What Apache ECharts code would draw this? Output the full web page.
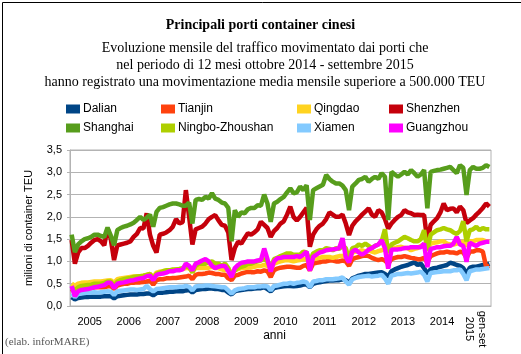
<!DOCTYPE html>
<html>
<head>
<meta charset="utf-8">
<script src="https://cdn.jsdelivr.net/npm/echarts@6/dist/echarts.min.js"></script>
<style>
  html, body { margin: 0; padding: 0; background: #fff; }
  #chart { width: 521px; height: 354px; }
</style>
</head>
<body>
<div id="chart"></div>
<script>
// anni e mesi (gen 2005 - set 2015)
const years = ['2005', '2006', '2007', '2008', '2009', '2010', '2011', '2012', '2013', '2014', '2015'];
const monthsInYear = [12, 12, 12, 12, 12, 12, 12, 12, 12, 12, 9];

// milioni di TEU al mese
const dalian = [
  0.20, 0.15, 0.18, 0.19, 0.20, 0.20, 0.21, 0.21, 0.21, 0.21, 0.22, 0.22,
  0.22, 0.17, 0.22, 0.23, 0.24, 0.25, 0.26, 0.26, 0.26, 0.27, 0.27, 0.28,
  0.28, 0.24, 0.29, 0.30, 0.30, 0.31, 0.32, 0.32, 0.33, 0.33, 0.33, 0.35,
  0.36, 0.30, 0.36, 0.37, 0.38, 0.38, 0.39, 0.39, 0.38, 0.38, 0.36, 0.36,
  0.30, 0.26, 0.33, 0.35, 0.36, 0.37, 0.38, 0.38, 0.39, 0.40, 0.40, 0.42,
  0.38, 0.33, 0.40, 0.42, 0.43, 0.44, 0.45, 0.45, 0.44, 0.45, 0.46, 0.48,
  0.48, 0.42, 0.50, 0.52, 0.53, 0.55, 0.56, 0.57, 0.57, 0.58, 0.58, 0.60,
  0.58, 0.52, 0.62, 0.65, 0.68, 0.70, 0.72, 0.72, 0.73, 0.74, 0.75, 0.76,
  0.72, 0.66, 0.78, 0.82, 0.85, 0.88, 0.90, 0.92, 0.95, 0.98, 0.92, 0.95,
  0.85, 0.72, 0.82, 0.85, 0.86, 0.88, 0.90, 0.92, 0.97, 0.95, 0.92, 0.90,
  0.85, 0.72, 0.86, 0.88, 0.88, 0.90, 0.92, 0.92, 0.95
];
const tianjin = [
  0.38, 0.30, 0.36, 0.38, 0.38, 0.40, 0.40, 0.42, 0.42, 0.42, 0.42, 0.44,
  0.45, 0.38, 0.46, 0.48, 0.50, 0.50, 0.52, 0.52, 0.53, 0.53, 0.54, 0.55,
  0.57, 0.48, 0.58, 0.60, 0.60, 0.62, 0.62, 0.63, 0.63, 0.64, 0.65, 0.66,
  0.68, 0.60, 0.70, 0.72, 0.72, 0.73, 0.75, 0.74, 0.72, 0.72, 0.70, 0.70,
  0.62, 0.58, 0.68, 0.70, 0.73, 0.75, 0.77, 0.76, 0.76, 0.78, 0.77, 0.80,
  0.78, 0.65, 0.80, 0.84, 0.86, 0.87, 0.88, 0.88, 0.87, 0.86, 0.86, 0.90,
  0.92, 0.80, 0.95, 0.97, 0.98, 1.00, 1.00, 1.02, 1.02, 1.00, 1.00, 1.02,
  1.00, 0.90, 1.05, 1.08, 1.10, 1.12, 1.13, 1.12, 1.08, 1.05, 1.03, 1.05,
  1.02, 0.95, 1.05, 1.08, 1.10, 1.10, 1.12, 1.10, 1.08, 1.07, 1.05, 1.05,
  1.08, 0.98, 1.12, 1.15, 1.18, 1.20, 1.20, 1.22, 1.20, 1.20, 1.18, 1.22,
  1.20, 1.08, 1.22, 1.22, 1.25, 1.25, 1.22, 0.88, 0.90
];
const qingdao = [
  0.50, 0.45, 0.50, 0.52, 0.53, 0.53, 0.54, 0.55, 0.55, 0.55, 0.56, 0.57,
  0.58, 0.52, 0.60, 0.62, 0.63, 0.64, 0.65, 0.66, 0.66, 0.67, 0.68, 0.70,
  0.72, 0.65, 0.75, 0.77, 0.78, 0.80, 0.80, 0.80, 0.82, 0.82, 0.83, 0.85,
  0.85, 0.78, 0.85, 0.85, 0.86, 0.85, 0.86, 0.88, 0.85, 0.85, 0.82, 0.80,
  0.85, 0.70, 0.80, 0.83, 0.85, 0.85, 0.87, 0.86, 0.88, 0.90, 0.90, 0.92,
  0.90, 0.85, 0.95, 0.98, 1.00, 1.02, 1.03, 1.02, 1.00, 1.02, 1.03, 1.05,
  1.05, 0.95, 1.05, 1.07, 1.08, 1.10, 1.10, 1.10, 1.08, 1.10, 1.12, 1.12,
  1.15, 1.05, 1.20, 1.22, 1.23, 1.25, 1.22, 1.25, 1.22, 1.20, 1.23, 1.25,
  1.28, 1.15, 1.30, 1.30, 1.32, 1.33, 1.30, 1.30, 1.25, 1.28, 1.30, 1.35,
  1.38, 1.25, 1.40, 1.42, 1.43, 1.45, 1.45, 1.40, 1.38, 1.38, 1.40, 1.42,
  1.45, 1.35, 1.45, 1.45, 1.48, 1.48, 1.48, 1.45, 1.45
];
const shenzhen = [
  1.48, 0.95, 1.20, 1.30, 1.30, 1.35, 1.42, 1.48, 1.50, 1.45, 1.36, 1.74,
  1.50, 1.03, 1.36, 1.38, 1.40, 1.42, 1.45, 1.55, 1.62, 1.75, 1.74, 2.08,
  1.60, 1.35, 1.20, 1.60, 1.62, 1.65, 1.70, 1.78, 1.95, 1.85, 1.88, 2.60,
  2.00, 1.38, 1.72, 1.75, 1.78, 1.85, 1.95, 2.00, 2.04, 1.92, 1.82, 1.80,
  1.65, 1.03, 1.30, 1.44, 1.40, 1.52, 1.63, 1.60, 1.65, 1.72, 1.89, 1.82,
  1.75, 1.55, 1.68, 1.75, 1.85, 1.90, 2.05, 2.23, 2.00, 1.92, 2.00, 2.10,
  2.20, 1.33, 1.60, 1.72, 1.80, 1.85, 1.95, 2.10, 2.05, 2.00, 2.00, 2.05,
  1.85, 1.59, 1.80, 1.90, 1.97, 2.05, 2.12, 2.19, 2.05, 2.00, 2.15, 2.10,
  1.95, 1.74, 1.85, 1.93, 2.00, 2.04, 2.15, 2.10, 2.08, 2.04, 2.05, 2.04,
  2.04, 1.44, 1.82, 1.90, 1.97, 2.10, 2.30, 2.15, 2.18, 2.19, 2.10, 2.23,
  2.15, 1.86, 1.92, 1.97, 2.05, 2.12, 2.20, 2.30, 2.23
];
const shanghai = [
  1.60, 1.21, 1.38, 1.45, 1.50, 1.52, 1.55, 1.60, 1.60, 1.57, 1.55, 1.76,
  1.58, 1.36, 1.70, 1.75, 1.78, 1.80, 1.83, 1.87, 1.93, 2.00, 1.93, 1.98,
  2.05, 1.78, 2.11, 2.20, 2.22, 2.25, 2.28, 2.30, 2.30, 2.28, 2.25, 2.25,
  2.32, 1.85, 2.38, 2.40, 2.38, 2.45, 2.41, 2.53, 2.41, 2.38, 2.32, 2.30,
  2.20, 1.45, 2.15, 2.00, 2.10, 2.08, 2.17, 2.20, 2.20, 2.26, 2.25, 2.50,
  2.30, 1.89, 2.30, 2.34, 2.40, 2.45, 2.55, 2.64, 2.53, 2.55, 2.68, 2.60,
  2.71, 1.93, 2.60, 2.64, 2.68, 2.72, 2.94, 2.85, 2.79, 2.75, 2.75, 2.70,
  2.60, 2.15, 2.68, 2.75, 2.83, 2.85, 2.90, 2.79, 2.85, 2.90, 2.85, 2.98,
  2.90, 1.93, 3.01, 2.95, 2.90, 2.95, 3.01, 2.95, 3.05, 2.98, 2.90, 2.95,
  3.05, 2.19, 3.01, 3.03, 3.05, 3.06, 3.08, 3.10, 3.12, 3.05, 2.98, 3.16,
  3.10, 2.49, 3.05, 3.12, 3.08, 3.08, 3.10, 3.16, 3.12
];
const ningbo = [
  0.42, 0.35, 0.42, 0.45, 0.46, 0.47, 0.48, 0.50, 0.50, 0.50, 0.52, 0.55,
  0.55, 0.45, 0.55, 0.58, 0.60, 0.62, 0.63, 0.65, 0.66, 0.67, 0.68, 0.70,
  0.72, 0.60, 0.72, 0.75, 0.78, 0.80, 0.80, 0.82, 0.82, 0.83, 0.85, 0.88,
  0.88, 0.75, 0.90, 0.95, 0.95, 0.95, 0.98, 1.00, 0.95, 0.95, 0.90, 0.95,
  0.85, 0.68, 0.80, 0.85, 0.88, 0.90, 0.95, 0.95, 0.98, 1.00, 1.02, 1.05,
  1.00, 0.85, 1.05, 1.08, 1.12, 1.15, 1.18, 1.18, 1.15, 1.15, 1.15, 1.22,
  1.20, 1.00, 1.18, 1.22, 1.25, 1.25, 1.30, 1.28, 1.25, 1.30, 1.28, 1.35,
  1.30, 1.05, 1.30, 1.32, 1.38, 1.35, 1.40, 1.35, 1.30, 1.35, 1.38, 1.45,
  1.72, 1.20, 1.38, 1.42, 1.45, 1.50, 1.55, 1.52, 1.48, 1.45, 1.45, 1.50,
  1.70, 1.25, 1.60, 1.65, 1.70, 1.72, 1.75, 1.72, 1.70, 1.65, 1.62, 1.68,
  1.90, 1.45, 1.70, 1.72, 1.78, 1.70, 1.75, 1.72, 1.72
];
const xiamen = [
  0.28, 0.20, 0.27, 0.28, 0.29, 0.30, 0.30, 0.31, 0.30, 0.31, 0.32, 0.33,
  0.32, 0.25, 0.33, 0.34, 0.35, 0.36, 0.37, 0.37, 0.36, 0.37, 0.38, 0.45,
  0.38, 0.33, 0.38, 0.39, 0.40, 0.41, 0.42, 0.42, 0.42, 0.43, 0.43, 0.45,
  0.43, 0.35, 0.44, 0.45, 0.45, 0.46, 0.46, 0.45, 0.44, 0.43, 0.42, 0.42,
  0.35, 0.28, 0.35, 0.38, 0.39, 0.40, 0.42, 0.42, 0.42, 0.44, 0.44, 0.45,
  0.44, 0.35, 0.45, 0.46, 0.48, 0.50, 0.50, 0.52, 0.50, 0.52, 0.53, 0.55,
  0.53, 0.42, 0.55, 0.56, 0.58, 0.58, 0.60, 0.60, 0.60, 0.61, 0.62, 0.64,
  0.55, 0.48, 0.60, 0.63, 0.65, 0.66, 0.67, 0.68, 0.66, 0.67, 0.68, 0.70,
  0.62, 0.50, 0.68, 0.70, 0.72, 0.72, 0.73, 0.74, 0.73, 0.74, 0.75, 0.77,
  0.70, 0.55, 0.74, 0.75, 0.76, 0.77, 0.78, 0.78, 0.78, 0.80, 0.80, 0.82,
  0.72, 0.58, 0.78, 0.80, 0.82, 0.82, 0.83, 0.84, 0.85
];
const guangzhou = [
  0.45, 0.22, 0.33, 0.36, 0.37, 0.38, 0.40, 0.42, 0.43, 0.45, 0.47, 0.52,
  0.52, 0.40, 0.50, 0.52, 0.53, 0.55, 0.57, 0.58, 0.60, 0.62, 0.63, 0.67,
  0.68, 0.58, 0.70, 0.72, 0.73, 0.75, 0.78, 0.78, 0.80, 0.80, 0.82, 0.95,
  0.90, 0.80, 0.95, 0.98, 1.02, 1.05, 1.00, 0.90, 0.85, 0.88, 0.90, 0.90,
  0.78, 0.65, 0.85, 0.92, 0.97, 0.98, 1.00, 1.00, 1.00, 1.02, 1.03, 1.29,
  1.05, 0.77, 1.00, 1.07, 1.08, 1.10, 1.10, 1.10, 1.10, 1.12, 1.10, 1.15,
  1.22, 0.79, 1.10, 1.15, 1.20, 1.22, 1.25, 1.26, 1.27, 1.28, 1.30, 1.52,
  1.10, 0.98, 1.22, 1.26, 1.20, 1.15, 1.20, 1.26, 1.30, 1.35, 1.38, 1.48,
  1.30, 0.84, 1.26, 1.27, 1.27, 1.28, 1.30, 1.30, 1.32, 1.32, 1.32, 1.32,
  1.40, 0.87, 1.28, 1.30, 1.32, 1.32, 1.34, 1.35, 1.35, 1.40, 1.55, 1.38,
  1.35, 0.99, 1.42, 1.38, 1.35, 1.40, 1.42, 1.44, 1.44
];

const seriesNames = ['Dalian', 'Tianjin', 'Qingdao', 'Shenzhen', 'Shanghai', 'Ningbo-Zhoushan', 'Xiamen', 'Guangzhou'];
const seriesData = [dalian, tianjin, qingdao, shenzhen, shanghai, ningbo, xiamen, guangzhou];
const colors = ['#004586', '#ff420e', '#ffd320', '#c5000b', '#579d1c', '#aecf00', '#83caff', '#ff00ff'];

// etichette dei mesi
var months = [];
years.forEach(function (y, k) {
  for (var m = 1; m <= monthsInYear[k]; m++) {
    months.push(y + '-' + (m < 10 ? '0' + m : m));
  }
});

var chartDom = document.getElementById('chart');
var myChart = echarts.init(chartDom, null, { renderer: 'canvas' });

var sans = 'Liberation Sans';
var serif = 'Liberation Serif';

// una legenda per colonna
var legendCols = [
  { left: 61, names: ['Dalian', 'Shanghai'] },
  { left: 156, names: ['Tianjin', 'Ningbo-Zhoushan'] },
  { left: 292, names: ['Qingdao', 'Xiamen'] },
  { left: 384, names: ['Shenzhen', 'Guangzhou'] }
];

var option = {
  animation: false,
  color: colors,
  title: [
    {
      text: 'Principali porti container cinesi',
      left: 'center',
      top: 13,
      textStyle: { fontFamily: serif, fontSize: 14, fontWeight: 'bold', color: '#000' }
    },
    {
      text: 'Evoluzione mensile del traffico movimentato dai porti che\nnel periodo di 12 mesi ottobre 2014 - settembre 2015\nhanno registrato una movimentazione media mensile superiore a 500.000 TEU',
      left: 260,
      top: 35,
      textAlign: 'center',
      textStyle: { fontFamily: serif, fontSize: 14, fontWeight: 'normal', color: '#000', lineHeight: 17 }
    }
  ],
  legend: legendCols.map(function (c) {
    return {
      data: c.names,
      orient: 'vertical',
      left: c.left,
      top: 98,
      itemWidth: 14,
      itemHeight: 9,
      itemGap: 7,
      icon: 'rect',
      selectedMode: false,
      textStyle: { fontFamily: sans, fontSize: 12, color: '#000', padding: [0, 0, 0, -2] }
    };
  }),
  grid: {
    left: 70,
    right: 30,
    top: 150,
    bottom: 48,
    show: true,
    borderColor: '#b3b3b3',
    borderWidth: 1
  },
  xAxis: {
    type: 'category',
    data: months,
    boundaryGap: true,
    name: 'anni',
    nameLocation: 'middle',
    nameGap: 24,
    nameTextStyle: { fontFamily: sans, fontSize: 12, color: '#000', padding: [0, 12, 0, 0] },
    axisLine: { lineStyle: { color: '#b3b3b3' } },
    axisTick: { interval: 11, length: 5, lineStyle: { color: '#b3b3b3' } },
    axisLabel: {
      interval: function (index) { return index % 12 === 0 && index < 120; },
      margin: 10,
      fontFamily: sans,
      fontSize: 11,
      color: '#000',
      formatter: function (value) { return '{y|' + value.slice(0, 4) + '}'; },
      rich: { y: { fontFamily: sans, fontSize: 11, color: '#000', padding: [0, 0, 0, 36] } }
    },
    splitLine: { show: false }
  },
  yAxis: {
    type: 'value',
    min: 0,
    max: 3.5,
    interval: 0.5,
    name: 'milioni di container TEU',
    nameLocation: 'middle',
    nameGap: 36,
    nameTextStyle: { fontFamily: sans, fontSize: 11, color: '#000' },
    axisLine: { show: true, lineStyle: { color: '#b3b3b3' } },
    axisTick: { show: true, length: 3, lineStyle: { color: '#b3b3b3' } },
    axisLabel: {
      margin: 8,
      fontFamily: sans,
      fontSize: 11,
      color: '#000',
      formatter: function (v) { return v.toFixed(1).replace('.', ','); }
    },
    splitLine: { lineStyle: { color: '#b3b3b3' } }
  },
  series: seriesNames.map(function (name, k) {
    return {
      name: name,
      type: 'line',
      data: seriesData[k],
      symbol: 'none',
      lineStyle: { width: 4.5, color: colors[k] },
      itemStyle: { color: colors[k] }
    };
  }),
  graphic: [
    {
      type: 'rect',
      left: 0,
      top: 0,
      shape: { width: 520, height: 353 },
      style: { fill: 'none', stroke: '#000', lineWidth: 1 },
      silent: true
    },
    {
      type: 'text',
      x: 476,
      y: 329,
      rotation: -Math.PI / 2,
      style: {
        text: 'gen-set\n2015',
        fontFamily: sans,
        fontSize: 11,
        lineHeight: 13,
        fill: '#000',
        align: 'center',
        verticalAlign: 'middle'
      }
    },
    {
      type: 'text',
      left: 5,
      top: 337,
      style: { text: '(elab. inforMARE)', fontFamily: serif, fontSize: 11, fill: '#555' }
    }
  ]
};

option && myChart.setOption(option);
</script>
</body>
</html>
